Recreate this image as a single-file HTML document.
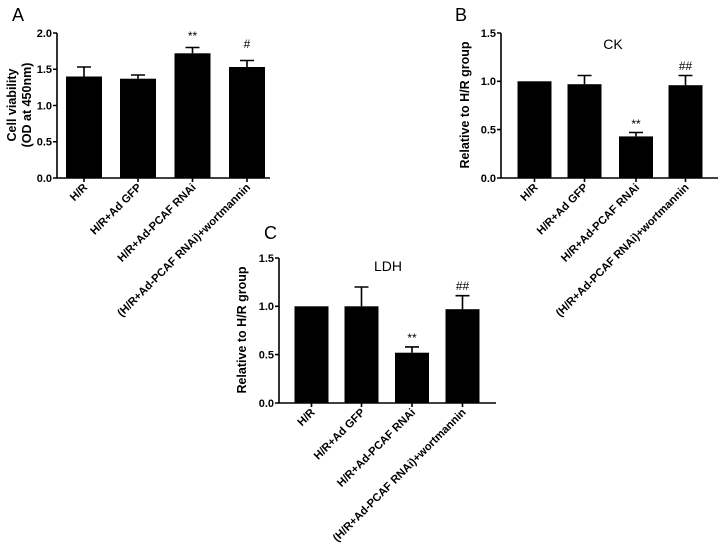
<!DOCTYPE html>
<html><head><meta charset="utf-8"><style>body{margin:0;background:#fff}svg{display:block}text{font-family:"Liberation Sans",Arial,sans-serif}</style></head><body>
<svg width="725" height="552" viewBox="0 0 725 552" xmlns="http://www.w3.org/2000/svg">
<g stroke="#000" stroke-width="1.6" fill="none">
<path d="M57,33V178H270"/>
<path d="M53,33H57M53,69.25H57M53,105.5H57M53,141.75H57M53,178H57"/>
<path d="M84,178v4M138,178v4M192.5,178v4M247,178v4"/>
<path d="M84,76.5V67M77,67H91M138,78.7V75M131,75H145M192.5,53.3V47.5M185.5,47.5H199.5M247,67V60.5M240,60.5H254"/>
<path d="M501,33V178H718"/>
<path d="M497,33H501M497,81.3H501M497,129.6H501M497,178H501"/>
<path d="M534.5,178v4M584.5,178v4M636,178v4M685.5,178v4"/>
<path d="M584.5,84.2V75.5M577.5,75.5H591.5M636,136.4V132.5M629,132.5H643M685.5,85.2V75.5M678.5,75.5H692.5"/>
<path d="M279,258V403H496"/>
<path d="M275,258H279M275,306.3H279M275,354.6H279M275,403H279"/>
<path d="M311.5,403v4M361.5,403v4M412,403v4M462.5,403v4"/>
<path d="M361.5,306.3V287M354.5,287H368.5M412,352.7V346.9M405,346.9H419M462.5,309.2V295.7M455.5,295.7H469.5"/>
</g>
<g fill="#000">
<rect x="66" y="76.5" width="36" height="101.5"/>
<rect x="120" y="78.7" width="36" height="99.3"/>
<rect x="174.5" y="53.3" width="36" height="124.7"/>
<rect x="229" y="67" width="36" height="111"/>
<rect x="517.5" y="81.3" width="34" height="96.7"/>
<rect x="567.5" y="84.2" width="34" height="93.8"/>
<rect x="619" y="136.4" width="34" height="41.6"/>
<rect x="668.5" y="85.2" width="34" height="92.8"/>
<rect x="294.5" y="306.3" width="34" height="96.7"/>
<rect x="344.5" y="306.3" width="34" height="96.7"/>
<rect x="395" y="352.7" width="34" height="50.3"/>
<rect x="445.5" y="309.2" width="34" height="93.8"/>
</g>
<g font-size="11" font-weight="bold" text-anchor="end">
<text x="52" y="37">2.0</text><text x="52" y="73">1.5</text><text x="52" y="109.5">1.0</text><text x="52" y="145.5">0.5</text><text x="52" y="182">0.0</text>
<text x="496" y="37">1.5</text><text x="496" y="85">1.0</text><text x="496" y="133.5">0.5</text><text x="496" y="182">0.0</text>
<text x="274" y="262">1.5</text><text x="274" y="310">1.0</text><text x="274" y="358.5">0.5</text><text x="274" y="407">0.0</text>
</g>
<g font-size="11.2" font-weight="bold" text-anchor="end">
<text transform="translate(88,188) rotate(-45)">H/R</text>
<text transform="translate(142,188) rotate(-45)">H/R+Ad GFP</text>
<text transform="translate(196.5,188) rotate(-45)">H/R+Ad-PCAF RNAi</text>
<text transform="translate(251,188) rotate(-45)">(H/R+Ad-PCAF RNAi)+wortmannin</text>
<text transform="translate(538.5,188) rotate(-45)">H/R</text>
<text transform="translate(588.5,188) rotate(-45)">H/R+Ad GFP</text>
<text transform="translate(640,188) rotate(-45)">H/R+Ad-PCAF RNAi</text>
<text transform="translate(689.5,188) rotate(-45)">(H/R+Ad-PCAF RNAi)+wortmannin</text>
<text transform="translate(315.5,413) rotate(-45)">H/R</text>
<text transform="translate(365.5,413) rotate(-45)">H/R+Ad GFP</text>
<text transform="translate(416,413) rotate(-45)">H/R+Ad-PCAF RNAi</text>
<text transform="translate(466.5,413) rotate(-45)">(H/R+Ad-PCAF RNAi)+wortmannin</text>
</g>
<g font-size="12.5" font-weight="bold" text-anchor="middle">
<text transform="translate(16,105) rotate(-90)">Cell viability</text>
<text transform="translate(31,105) rotate(-90)">(OD at 450nm)</text>
<text transform="translate(469,105) rotate(-90)">Relative to H/R group</text>
<text transform="translate(246,330) rotate(-90)">Relative to H/R group</text>
</g>
<g font-size="18">
<text x="12" y="21">A</text><text x="455" y="21">B</text><text x="264" y="239">C</text>
</g>
<g font-size="14" text-anchor="middle">
<text x="613" y="49">CK</text><text x="388" y="271">LDH</text>
</g>
<g font-size="12" text-anchor="middle">
<text x="192.5" y="40">**</text><text x="247" y="48">#</text>
<text x="636" y="128">**</text><text x="685.5" y="70">##</text>
<text x="412" y="342">**</text><text x="462.5" y="290">##</text>
</g>
</svg>
</body></html>
